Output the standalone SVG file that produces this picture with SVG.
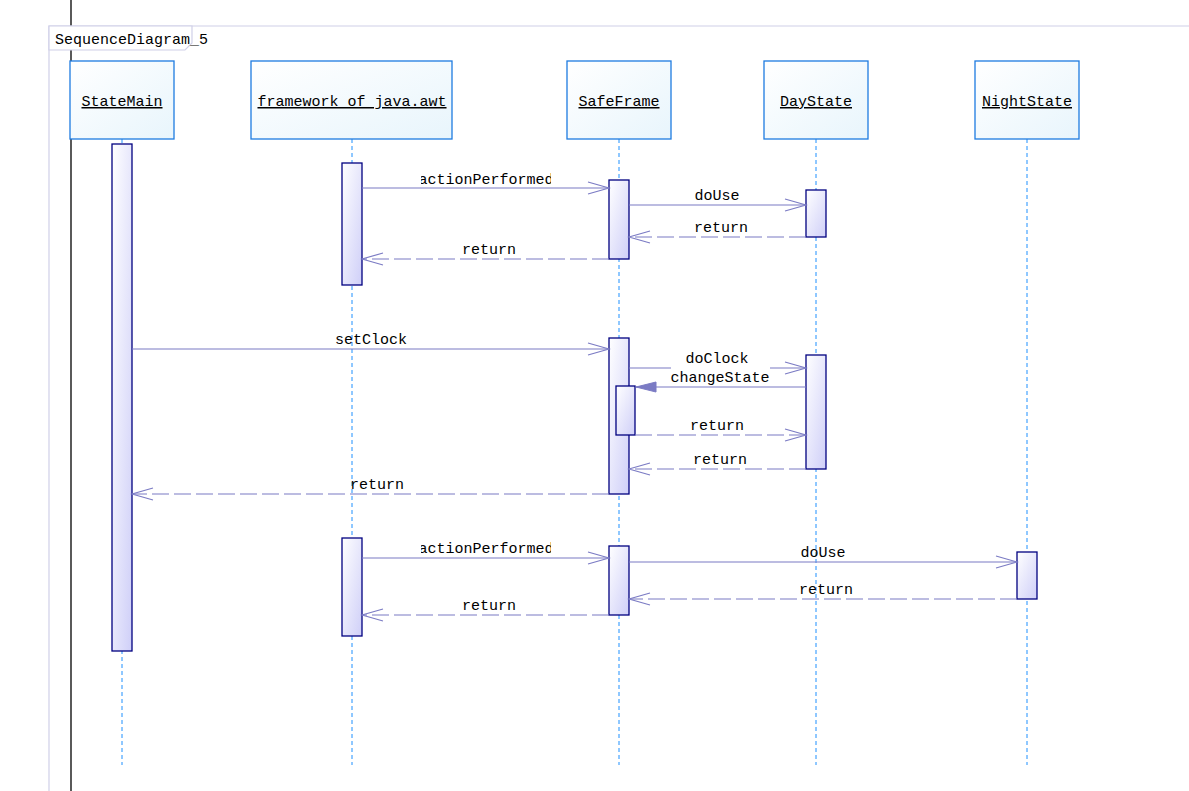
<svg xmlns="http://www.w3.org/2000/svg" width="1189" height="791" viewBox="0 0 1189 791">
<style>
text{font-family:"Liberation Mono","DejaVu Sans Mono",monospace;font-size:15px;fill:#000}
.hd{text-anchor:middle;text-decoration:underline}
.lbl{text-anchor:middle}
.head{fill:url(#gHead);stroke:#1e7be0;stroke-width:1.3}
.act{fill:url(#gAct);stroke:#000080;stroke-width:1.3}
.life{stroke:#1e90ff;stroke-width:1;stroke-dasharray:4 3;fill:none}
.msg{stroke:#7b7bc4;stroke-width:1.2;fill:none}
.ret{stroke:#7b7bc4;stroke-width:1.2;fill:none;stroke-dasharray:17 5}
</style>
<defs>
<linearGradient id="gHead" x1="0" y1="0" x2="1" y2="1"><stop offset="0" stop-color="#ffffff"/><stop offset="1" stop-color="#e8f5fc"/></linearGradient>
<linearGradient id="gAct" x1="0" y1="0" x2="1" y2="1"><stop offset="0" stop-color="#ffffff"/><stop offset="1" stop-color="#cfcff8"/></linearGradient>
<marker id="open" viewBox="-22 -8 24 16" markerWidth="24" markerHeight="16" refX="0" refY="0" orient="auto" markerUnits="userSpaceOnUse"><path d="M-21,-6 L0,0 L-21,6" fill="none" stroke="#7b7bc4" stroke-width="1.2"/></marker>
<marker id="filled" viewBox="-22 -8 24 16" markerWidth="24" markerHeight="16" refX="0" refY="0" orient="auto" markerUnits="userSpaceOnUse"><path d="M-20,-5 L0,0 L-20,5 Z" fill="#7b7bc4" stroke="#7b7bc4" stroke-width="1"/></marker>
<clipPath id="clipAP"><rect x="421" y="150" width="130" height="450"/></clipPath>
</defs>
<rect width="1189" height="791" fill="#fff"/>
<line x1="71" y1="0" x2="71" y2="791" stroke="#000" stroke-width="1.3"/>
<g id="frame">
<path d="M49,791 L49,26 L1189,26" fill="none" stroke="#d0d0e8" stroke-width="1.2"/>
<path d="M49,26 L192,26 L192,43 L185,50 L49,50 Z" fill="#fff" stroke="#d0d0e8" stroke-width="1.2"/>
<text x="55" y="44">SequenceDiagram_5</text>
</g>
<g id="lifelines">
<line class="life" x1="122" y1="139" x2="122" y2="765"/>
<line class="life" x1="352" y1="139" x2="352" y2="765"/>
<line class="life" x1="619" y1="139" x2="619" y2="765"/>
<line class="life" x1="816" y1="139" x2="816" y2="765"/>
<line class="life" x1="1027" y1="139" x2="1027" y2="765"/>
</g>
<g id="StateMain">
<rect class="head" x="70" y="61" width="104" height="78"/>
<text class="hd" x="122" y="106">StateMain</text>
<rect class="act" x="112" y="144" width="20" height="507"/>
</g>
<g id="framework">
<rect class="head" x="251" y="61" width="201" height="78"/>
<text class="hd" x="352" y="106">framework of java.awt</text>
<rect class="act" x="342" y="163" width="20" height="122"/>
<rect class="act" x="342" y="538" width="20" height="98"/>
</g>
<g id="SafeFrame">
<rect class="head" x="567" y="61" width="104" height="78"/>
<text class="hd" x="619" y="106">SafeFrame</text>
<rect class="act" x="609" y="180" width="20" height="79"/>
<rect class="act" x="609" y="338" width="20" height="156"/>
<rect class="act" x="616" y="386" width="19" height="49"/>
<rect class="act" x="609" y="546" width="20" height="69"/>
</g>
<g id="DayState">
<rect class="head" x="764" y="61" width="104" height="78"/>
<text class="hd" x="816" y="106">DayState</text>
<rect class="act" x="806" y="190" width="20" height="47"/>
<rect class="act" x="806" y="355" width="20" height="114"/>
</g>
<g id="NightState">
<rect class="head" x="975" y="61" width="104" height="78"/>
<text class="hd" x="1027" y="106">NightState</text>
<rect class="act" x="1017" y="552" width="20" height="47"/>
</g>
<g id="connectors">
<line class="msg" x1="362" y1="188" x2="609" y2="188" marker-end="url(#open)"/>
<text class="lbl" x="486" y="184" clip-path="url(#clipAP)">actionPerformed</text>
<line class="msg" x1="629" y1="205" x2="806" y2="205" marker-end="url(#open)"/>
<text class="lbl" x="717" y="200">doUse</text>
<line class="ret" x1="806" y1="237" x2="629" y2="237" marker-end="url(#open)"/>
<text class="lbl" x="721" y="232">return</text>
<line class="ret" x1="609" y1="259" x2="362" y2="259" marker-end="url(#open)"/>
<text class="lbl" x="489" y="254">return</text>
<line class="msg" x1="132" y1="349" x2="609" y2="349" marker-end="url(#open)"/>
<text class="lbl" x="371" y="344">setClock</text>
<line class="msg" x1="629" y1="368" x2="806" y2="368" marker-end="url(#open)"/>
<rect x="671" y="366" width="99" height="19" fill="#fff"/>
<text class="lbl" x="717" y="363">doClock</text>
<line class="msg" x1="806" y1="387" x2="636" y2="387" marker-end="url(#filled)"/>
<text class="lbl" x="720" y="382">changeState</text>
<line class="ret" x1="635" y1="435" x2="806" y2="435" marker-end="url(#open)"/>
<text class="lbl" x="717" y="430">return</text>
<line class="ret" x1="806" y1="469" x2="629" y2="469" marker-end="url(#open)"/>
<text class="lbl" x="720" y="464">return</text>
<line class="ret" x1="609" y1="494" x2="132" y2="494" marker-end="url(#open)"/>
<text class="lbl" x="377" y="489">return</text>
<line class="msg" x1="362" y1="558" x2="609" y2="558" marker-end="url(#open)"/>
<text class="lbl" x="486" y="553" clip-path="url(#clipAP)">actionPerformed</text>
<line class="msg" x1="629" y1="562" x2="1017" y2="562" marker-end="url(#open)"/>
<text class="lbl" x="823" y="557">doUse</text>
<line class="ret" x1="1017" y1="599" x2="629" y2="599" marker-end="url(#open)"/>
<text class="lbl" x="826" y="594">return</text>
<line class="ret" x1="609" y1="615" x2="362" y2="615" marker-end="url(#open)"/>
<text class="lbl" x="489" y="610">return</text>
</g>
</svg>
